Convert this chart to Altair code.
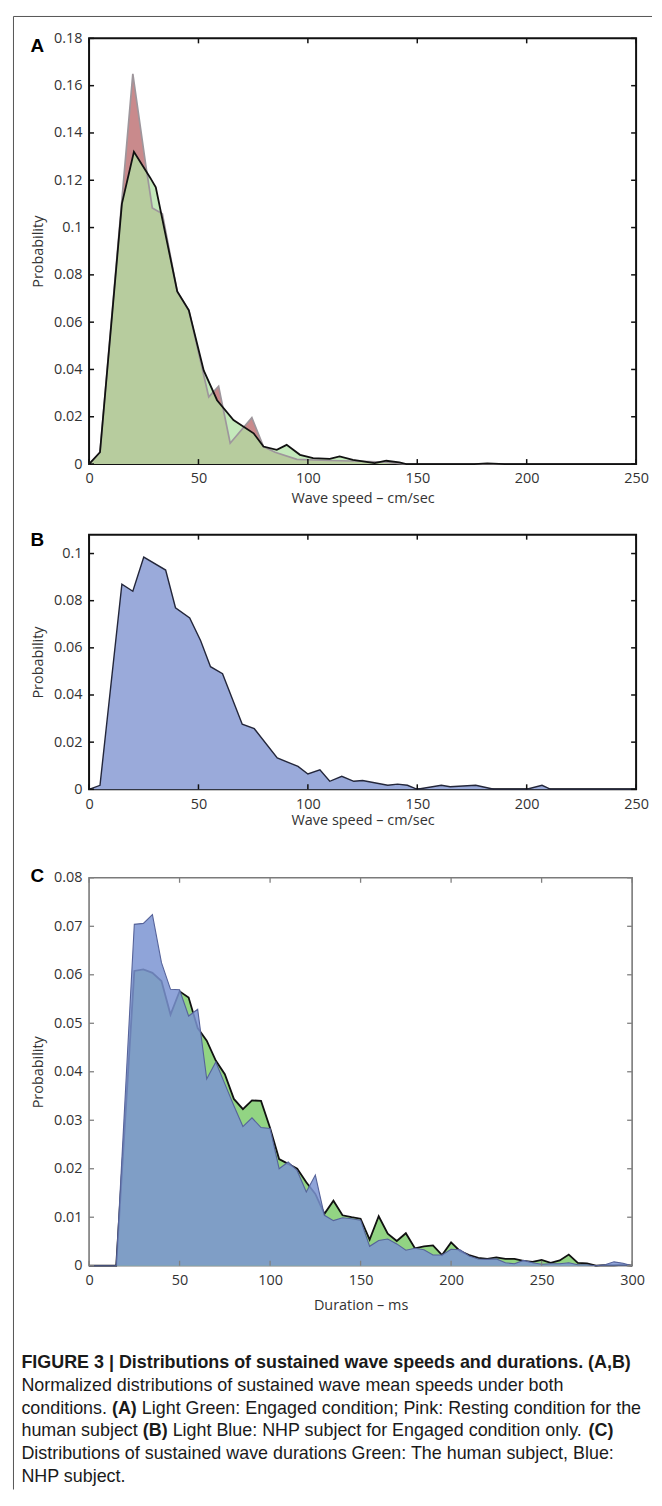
import altair as alt
import pandas as pd

# ---------------- data ----------------
# Panel A: wave speed distributions, human subject
a_engaged_x = [0, 5, 15, 20.5, 28, 30.5, 40.3, 45.6, 52.4, 58.5, 66, 75.2, 79.7, 85.8, 90.3, 96.4,
               102.4, 110, 114.5, 120.6, 130.5, 135.8, 141.8, 145, 176, 182, 190, 250]
a_engaged_y = [0, 0.005, 0.110, 0.132, 0.121, 0.117, 0.073, 0.065, 0.0396, 0.027, 0.0186, 0.013,
               0.0074, 0.006, 0.0081, 0.0039, 0.0025, 0.0022, 0.0032, 0.0018, 0.0004, 0.0014,
               0.0007, 0, 0, 0.0003, 0, 0]
a_rest_x = [0, 5, 20, 25.9, 28.9, 33.5, 40.3, 45.6, 54.7, 59.2, 64.5, 74.4, 79.7, 85, 95, 110,
            125, 135, 145, 250]
a_rest_y = [0, 0.005, 0.165, 0.1265, 0.1083, 0.1058, 0.073, 0.065, 0.0284, 0.0329, 0.0088,
            0.0196, 0.0074, 0.005, 0.002, 0.0015, 0.0012, 0.0008, 0, 0]

# Panel B: wave speed distribution, NHP subject
b_x = [0, 5, 15, 20, 25, 35, 39.5, 46, 51, 55.5, 61, 70, 75.5, 86, 95.5, 100, 105.5, 110, 115.5,
       121, 125, 136.5, 141, 145.5, 150, 161, 165, 176.7, 185, 200, 207, 211, 250]
b_y = [0, 0.0017, 0.087, 0.084, 0.0985, 0.093, 0.077, 0.0727, 0.063, 0.052, 0.049, 0.0276,
       0.0257, 0.0133, 0.0097, 0.0065, 0.0083, 0.0034, 0.0055, 0.0034, 0.0037, 0.0017, 0.0022,
       0.0017, 0, 0.0017, 0.0011, 0.0017, 0, 0, 0.0017, 0, 0]

# Panel C: wave duration distributions
c_x = [0, 15, 25, 30, 35, 40, 45, 50, 55, 60, 65, 70, 75, 80, 85, 90, 95, 100, 105, 110, 115, 120,
       125, 130, 135, 140, 145, 150, 155, 160, 165, 170, 175, 180, 185, 190, 195, 200, 205, 210,
       215, 220, 225, 230, 235, 240, 245, 250, 255, 260, 265, 270, 275, 280, 285, 290, 295, 300]
c_human = [0, 0, 0.0608, 0.0611, 0.0604, 0.0587, 0.0518, 0.0566, 0.0553, 0.0490, 0.0464, 0.0423,
           0.0395, 0.0344, 0.0323, 0.0341, 0.0340, 0.0284, 0.0220, 0.0210, 0.0200, 0.0172,
           0.0148, 0.0107, 0.0134, 0.0104, 0.0100, 0.0097, 0.0054, 0.0102, 0.0066, 0.0051,
           0.0067, 0.0036, 0.0040, 0.0042, 0.0022, 0.0048, 0.0030, 0.0022, 0.0016, 0.0014,
           0.0017, 0.0014, 0.0014, 0.0010, 0.0008, 0.0012, 0.0006, 0.0011, 0.0023, 0.0006,
           0.0005, 0.0, 0.0001, 0.0001, 0.0002, 0.0]
c_nhp = [0, 0, 0.0704, 0.0706, 0.0724, 0.0625, 0.0570, 0.0569, 0.0515, 0.0529, 0.0385, 0.0420,
         0.0375, 0.0330, 0.0287, 0.0305, 0.0285, 0.0283, 0.0200, 0.0214, 0.0196, 0.0152,
         0.0187, 0.0104, 0.0093, 0.0099, 0.0097, 0.0094, 0.0040, 0.0052, 0.0055, 0.0045,
         0.0032, 0.0036, 0.0033, 0.0022, 0.0022, 0.0034, 0.0033, 0.0020, 0.0014, 0.0013,
         0.0014, 0.0006, 0.0004, 0.0011, 0.0006, 0.0003, 0.0004, 0.0004, 0.0006, 0.0002,
         0.0002, 0.0, 0.0002, 0.0008, 0.0005, 0.0]

# tick labels
ab_xticks = [0, 50, 100, 150, 200, 250]
a_yticks = [0, 0.02, 0.04, 0.06, 0.08, 0.1, 0.12, 0.14, 0.16, 0.18]
b_yticks = [0, 0.02, 0.04, 0.06, 0.08, 0.1]
c_xticks = [0, 50, 100, 150, 200, 250, 300]
c_yticks = [0, 0.01, 0.02, 0.03, 0.04, 0.05, 0.06, 0.07, 0.08]

caption_lines = [
    [("FIGURE 3 | Distributions of sustained wave speeds and durations. (A,B)", True)],
    [("Normalized distributions of sustained wave mean speeds under both", False)],
    [("conditions. ", False), ("(A)", True),
     (" Light Green: Engaged condition; Pink: Resting condition for the", False)],
    [("human subject ", False), ("(B)", True),
     (" Light Blue: NHP subject for Engaged condition only. ", False), ("(C)", True)],
    [("Distributions of sustained wave durations Green: The human subject, Blue:", False)],
    [("NHP subject.", False)],
]

# ---------------- style ----------------
FONT = "Open Sans"
TXT = "#333333"
AX_FS = 14.5
CAP_FONT = "Liberation Sans"
CAP_FS = 18

# Arial / Liberation Sans advance widths (1/1000 em) for caption layout
REG = {' ': 278, '(': 333, ')': 333, ',': 278, '.': 278, ':': 278, ';': 278, '|': 260, '-': 333}
for ch, w in zip("abcdefghijklmnopqrstuvwxyz",
                 [556, 556, 500, 556, 556, 278, 556, 556, 222, 222, 500, 222, 833, 556, 556, 556,
                  556, 333, 500, 278, 556, 500, 722, 500, 500, 500]):
    REG[ch] = w
for ch, w in zip("ABCDEFGHIJKLMNOPQRSTUVWXYZ",
                 [667, 667, 722, 722, 667, 611, 778, 722, 278, 500, 667, 556, 833, 722, 778, 667,
                  778, 722, 667, 611, 722, 667, 944, 667, 667, 611]):
    REG[ch] = w
for d in "0123456789":
    REG[d] = 556
BOLD = {' ': 278, '(': 333, ')': 333, 'A': 722, 'B': 722, 'C': 722, ',': 278}


def text_w(s, bold):
    tab = BOLD if bold else REG
    return sum(tab.get(c, 556) for c in s) * CAP_FS / 1000.0


def x_axis(values, title, title_pad):
    return alt.Axis(values=values, format="d", title=title, labelFlush=False, ticks=False,
                    tickSize=0, domain=False, grid=False, labelPadding=8,
                    titlePadding=title_pad, labelFont=FONT, titleFont=FONT, labelFontSize=AX_FS,
                    titleFontSize=AX_FS, labelColor=TXT, titleColor=TXT,
                    titleFontWeight="normal", labelOverlap=False)


def y_axis(values):
    return alt.Axis(values=values, format=".2~f", title="Probability", ticks=False, tickSize=0,
                    domain=False, grid=False, labelPadding=7, titlePadding=8, labelFont=FONT,
                    titleFont=FONT, labelFontSize=AX_FS, titleFontSize=AX_FS, labelColor=TXT,
                    titleColor=TXT, titleFontWeight="normal", labelOverlap=False)


def tick_layers(xvals, yvals, X, Y, W, H, color, sw):
    xt = pd.DataFrame({"t": xvals})
    yt = pd.DataFrame({"t": yvals})
    bx = alt.Chart(xt).mark_rule(color=color, strokeWidth=sw)
    by = alt.Chart(yt).mark_rule(color=color, strokeWidth=sw)
    return [
        bx.encode(x=X("t"), y=alt.value(0), y2=alt.value(5)),
        bx.encode(x=X("t"), y=alt.value(H), y2=alt.value(H - 5)),
        by.encode(y=Y("t"), x=alt.value(0), x2=alt.value(5)),
        by.encode(y=Y("t"), x=alt.value(W), x2=alt.value(W - 5)),
    ]


def label(letter, dy):
    return alt.Chart(pd.DataFrame({"k": [0]})).mark_text(
        font=CAP_FONT, fontSize=19, fontWeight="bold", color="#000", align="left",
        baseline="alphabetic").encode(text=alt.value(letter), x=alt.value(-59), y=alt.value(dy))


def spacer(h):
    return alt.Chart(pd.DataFrame({"k": [0]})).mark_rule(opacity=0).encode(
        x=alt.value(0), y=alt.value(0), y2=alt.value(1)).properties(
        width=500, height=h, view=alt.ViewBackground(stroke="transparent", strokeWidth=0))


one = pd.DataFrame({"k": [0]})

# ---------------- panel A ----------------
WA, HA = 550, 428
xsA = alt.Scale(domain=[0, 250], nice=False, zero=False)
ysA = alt.Scale(domain=[0, 0.18], nice=False)
axXA = x_axis(ab_xticks, "Wave speed \u2013 cm/sec", 6)
axYA = y_axis(a_yticks)
XA = lambda f: alt.X(f + ":Q", scale=xsA, axis=axXA)
YA = lambda f: alt.Y(f + ":Q", scale=ysA, axis=axYA)
dfA_e = pd.DataFrame({"speed": a_engaged_x, "p": a_engaged_y})
dfA_r = pd.DataFrame({"speed": a_rest_x, "p": a_rest_y})

rest_area = alt.Chart(dfA_r).mark_area(color="#c98a8c", opacity=1).encode(x=XA("speed"), y=YA("p"))
eng_area = alt.Chart(dfA_e).mark_area(color="#b0e2a4", opacity=0.75).encode(x=XA("speed"), y=YA("p"))
rest_line = alt.Chart(dfA_r).mark_line(color="#9e969c", strokeWidth=1.7).encode(x=XA("speed"), y=YA("p"))
eng_line = alt.Chart(dfA_e).mark_line(color="#111111", strokeWidth=1.8).encode(x=XA("speed"), y=YA("p"))

border_v = alt.Chart(one).mark_rule(color="#555555", strokeWidth=1).encode(
    x=alt.value(-76), y=alt.value(-22), y2=alt.value(1459))
border_h = alt.Chart(one).mark_rule(color="#555555", strokeWidth=1).encode(
    x=alt.value(-76), x2=alt.value(566), y=alt.value(-22))

panelA = alt.layer(rest_area, eng_area, rest_line, eng_line,
                   *tick_layers(ab_xticks, a_yticks, XA, YA, WA, HA, "#111111", 1.5),
                   label("A", 14), border_v, border_h).properties(
    width=WA, height=HA, view=alt.ViewBackground(stroke="#111111", strokeWidth=2))

# ---------------- panel B ----------------
WB, HB = 550, 256
xsB = alt.Scale(domain=[0, 250], nice=False, zero=False)
ysB = alt.Scale(domain=[0, 0.108], nice=False)
axXB = x_axis(ab_xticks, "Wave speed \u2013 cm/sec", 3)
axYB = y_axis(b_yticks)
XB = lambda f: alt.X(f + ":Q", scale=xsB, axis=axXB)
YB = lambda f: alt.Y(f + ":Q", scale=ysB, axis=axYB)
dfB = pd.DataFrame({"speed": b_x, "p": b_y})
b_area = alt.Chart(dfB).mark_area(color="#9aaada").encode(x=XB("speed"), y=YB("p"))
b_line = alt.Chart(dfB).mark_line(color="#23263a", strokeWidth=1.4).encode(x=XB("speed"), y=YB("p"))
panelB = alt.layer(b_area, b_line,
                   *tick_layers(ab_xticks, b_yticks, XB, YB, WB, HB, "#111111", 1.5),
                   label("B", 11)).properties(
    width=WB, height=HB, view=alt.ViewBackground(stroke="#111111", strokeWidth=2))

# ---------------- panel C ----------------
WC, HC = 546, 390
xsC = alt.Scale(domain=[0, 300], nice=False, zero=False)
ysC = alt.Scale(domain=[0, 0.08], nice=False)
axXC = x_axis(c_xticks, "Duration \u2013 ms", 12)
axYC = y_axis(c_yticks)
XC = lambda f: alt.X(f + ":Q", scale=xsC, axis=axXC)
YC = lambda f: alt.Y(f + ":Q", scale=ysC, axis=axYC)
dfC = pd.DataFrame({"dur": c_x, "human": c_human, "nhp": c_nhp})
h_area = alt.Chart(dfC).mark_area(color="#92d483").encode(x=XC("dur"), y=YC("human"))
h_line = alt.Chart(dfC).mark_line(color="#111111", strokeWidth=1.8).encode(x=XC("dur"), y=YC("human"))
n_area = alt.Chart(dfC).mark_area(color="#7b94d2", opacity=0.85).encode(x=XC("dur"), y=YC("nhp"))
n_line = alt.Chart(dfC).mark_line(color="#56639a", strokeWidth=1.1).encode(x=XC("dur"), y=YC("nhp"))

cap_layers = []
base_y = 493
for i, line in enumerate(caption_lines):
    xpos = -68.0
    for seg, bold in line:
        lead = len(seg) - len(seg.lstrip(" "))
        txt = seg.strip(" ")
        sx = xpos + text_w(" " * lead, bold)
        cap_layers.append(
            alt.Chart(one).mark_text(font=CAP_FONT, fontSize=CAP_FS,
                                     fontWeight="bold" if bold else "normal",
                                     color="#1a1a1a", align="left", baseline="alphabetic")
            .encode(text=alt.value(txt), x=alt.value(round(sx, 2)),
                    y=alt.value(base_y + i * 22.8)))
        xpos += text_w(seg, bold)

panelC = alt.layer(h_area, h_line, n_area, n_line,
                   *tick_layers(c_xticks, c_yticks, XC, YC, WC, HC, "#808080", 1.3),
                   label("C", 4), *cap_layers).properties(
    width=WC, height=HC, view=alt.ViewBackground(stroke="#7a7a7a", strokeWidth=1.6))

chart = alt.vconcat(panelA, spacer(11), panelB, spacer(29), panelC,
                    spacing=30, bounds="flush").properties(
    padding={"left": 3.5, "top": 2.5, "right": 0, "bottom": 0},
    background="white")

chart.save("out.html", embed_options={"renderer": "svg", "actions": False})
